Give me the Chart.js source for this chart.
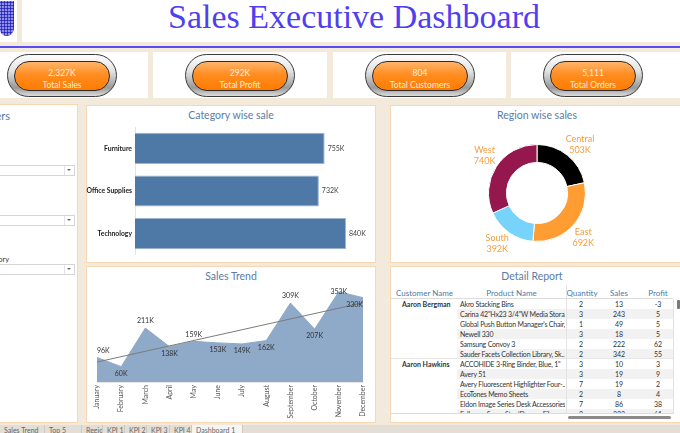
<!DOCTYPE html>
<html>
<head>
<meta charset="utf-8">
<script src="https://cdn.jsdelivr.net/npm/chart.js@4.4.1/dist/chart.umd.min.js"></script>
<style>
  body { margin: 0; width: 680px; height: 433px; background: #f4eadb; position: relative; overflow: hidden; font-family: Lato, sans-serif; }
  .abs { position: absolute; }
  .white { position: absolute; background: #fff; }
  .panel { position: absolute; background: #fff; border: 1px solid #f6d8b4; box-sizing: border-box; }
  .ttl { position: absolute; text-align: center; color: #5a7ca6; font-size: 10.5px; line-height: 12px; white-space: nowrap; }
  canvas { position: absolute; }
  .pill { position: absolute; top: 54px; height: 43px; border-radius: 22px; box-sizing: border-box; border: 1px solid #3a3a3a;
          background: linear-gradient(#fdfdfd, #e2e2e2 40%, #999 80%, #dcdcdc); }
  .pill .in { position: absolute; left: 6px; right: 6px; top: 6px; bottom: 5px; border-radius: 16px; border: 1px solid #2b2b2b;
              background: linear-gradient(#ffb46a, #ff8d22 45%, #ff7b00); color: #ffeede; text-align: center; font-size: 8.5px; line-height: 12px; padding-top: 5px; box-sizing: border-box; }
  .dd { position: absolute; left: -2px; width: 75px; height: 9px; border: 1px solid #d6d6d6; background: #fff; }
  .dd:after { content: ''; position: absolute; right: 3px; top: 3px; border-left: 2px solid transparent; border-right: 2px solid transparent; border-top: 2px solid #666; }
  .dd:before { content: ''; position: absolute; right: 9px; top: 0; bottom: 0; border-left: 1px solid #e2e2e2; }
  .cell { position: absolute; font-size: 7px; line-height: 10px; color: #333; white-space: nowrap; overflow: hidden; }
  .hd { position: absolute; font-size: 8px; line-height: 10px; color: #4e79a7; white-space: nowrap; }
  .tab { position: absolute; top: 425px; height: 8px; border-right: 1px solid #cfc8bc; font-size: 7px; color: #666; overflow: hidden; line-height: 10px; padding-left: 4px; box-sizing: border-box; }
</style>
</head>
<body>
<!-- header -->
<div class="white" style="left:0;top:0;width:17px;height:42px;"></div>
<div class="abs" style="left:0;top:1px;width:14px;height:35px;border-radius:0 0 8px 7px;background:radial-gradient(circle,#1f1fb8 0.9px,transparent 1.3px) 0 0/3px 3px,#8e8ee8;"></div>
<div class="white" style="left:22px;top:0;width:658px;height:42px;"></div>
<div class="abs" style="left:168px;top:-3px;font-family:'Liberation Serif',serif;font-size:34px;line-height:40px;color:#4f3ff0;white-space:nowrap;">Sales Executive Dashboard</div>
<div class="abs" style="left:0;top:46px;width:680px;height:2px;background:#5a4cf0;"></div>

<!-- KPI panels -->
<div class="white" style="left:0;top:52px;width:148px;height:46px;"></div>
<div class="white" style="left:153px;top:52px;width:174px;height:46px;"></div>
<div class="white" style="left:333px;top:52px;width:173px;height:46px;"></div>
<div class="white" style="left:511px;top:52px;width:169px;height:46px;"></div>
<div id="kpis"></div>

<!-- panels -->
<div class="panel" style="left:-1px;top:104px;width:79px;height:319px;"></div>
<div class="panel" style="left:86px;top:105px;width:290px;height:158px;"></div>
<div class="panel" style="left:390px;top:105px;width:292px;height:158px;"></div>
<div class="panel" style="left:86px;top:266px;width:290px;height:157px;"></div>
<div class="panel" style="left:390px;top:266px;width:292px;height:157px;"></div>

<!-- filters (cut off at the left edge) -->
<div class="abs" style="left:-40px;top:110px;width:50px;text-align:right;color:#4e79a7;font-size:11px;line-height:12px;">Filters</div>
<div class="dd" style="top:165px;"></div>
<div class="dd" style="top:215px;"></div>
<div class="abs" style="left:-42px;top:255px;width:51px;text-align:right;color:#333;font-size:7.5px;line-height:9px;">Category</div>
<div class="dd" style="top:264px;"></div>

<!-- titles -->
<div class="ttl" style="left:86px;width:290px;top:109px;">Category wise sale</div>
<div class="ttl" style="left:390px;width:294px;top:109px;">Region wise sales</div>
<div class="ttl" style="left:86px;width:290px;top:270px;">Sales Trend</div>
<div class="ttl" style="left:390px;width:284px;top:270px;">Detail Report</div>

<canvas id="cat" width="289" height="157" style="left:86px;top:105px;"></canvas>
<canvas id="region" width="290" height="157" style="left:390px;top:105px;"></canvas>
<canvas id="trend" width="289" height="156" style="left:86px;top:266px;"></canvas>

<div id="report"></div>

<!-- sheet tabs -->
<div class="abs" style="left:0;top:425px;width:680px;height:8px;background:#e4dfd6;"></div>
<div id="tabs"></div>

<script>
// KPI tiles
const kpiValues = ['2,327K', '292K', '804', '5,111'];
const kpiLabels = ['Total Sales', 'Total Profit', 'Total Customers', 'Total Orders'];

// Category wise sale (K)
const categories = ['Furniture', 'Office Supplies', 'Technology'];
const categorySales = [755, 732, 840];

// Region wise sales (K)
const regions = ['Central', 'East', 'South', 'West'];
const regionSales = [503, 692, 392, 740];

// Sales trend (K)
const months = ['January', 'February', 'March', 'April', 'May', 'June', 'July', 'August', 'September', 'October', 'November', 'December'];
const monthlySales = [96, 60, 211, 138, 159, 153, 149, 162, 309, 207, 353, 330];
const trendEnds = [78, 310];

// Detail report
const customers = ['Aaron Bergman', 'Aaron Bergman', 'Aaron Bergman', 'Aaron Bergman', 'Aaron Bergman', 'Aaron Bergman',
                   'Aaron Hawkins', 'Aaron Hawkins', 'Aaron Hawkins', 'Aaron Hawkins', 'Aaron Hawkins', 'Aaron Hawkins'];
const products = ['Akro Stacking Bins', 'Carina 42"Hx23 3/4"W Media Stora..', "Global Push Button Manager's Chair,..",
                  'Newell 330', 'Samsung Convoy 3', 'Sauder Facets Collection Library, Sk..',
                  'ACCOHIDE 3-Ring Binder, Blue, 1"', 'Avery 51', 'Avery Fluorescent Highlighter Four-..',
                  'EcoTones Memo Sheets', 'Eldon Image Series Desk Accessories..', 'Fellowes Super Stor/Drawer Files'];
const quantities = [2, 3, 1, 3, 2, 2, 3, 3, 7, 2, 7, 2];
const sales = [13, 243, 49, 18, 222, 342, 10, 19, 19, 8, 86, 323];
const profits = [-3, 5, 5, 5, 62, 55, 3, 9, 2, 4, 38, 61];

const tabNames = ['Sales Trend', 'Top 5', 'Region', 'KPI 1', 'KPI 2', 'KPI 3', 'KPI 4', 'Dashboard 1'];

// ---- KPI pills ----
const pillX = [7, 185, 365, 543];
const pillW = [110, 110, 110, 100];
let html = '';
kpiValues.forEach((v, i) => {
  html += '<div class="pill" style="left:' + pillX[i] + 'px;width:' + pillW[i] + 'px;"><div class="in">' + v + '<br>' + kpiLabels[i] + '</div></div>';
});
document.getElementById('kpis').innerHTML = html;

// ---- tabs ----
const tabX = [0, 45, 82, 103, 125, 147, 170, 192, 243];
html = '';
tabNames.forEach((t, i) => {
  const bg = i === tabNames.length - 1 ? 'background:#f7f5f1;' : '';
  html += '<div class="tab" style="left:' + tabX[i] + 'px;width:' + (tabX[i + 1] - tabX[i]) + 'px;' + bg + '">' + t + '</div>';
});
document.getElementById('tabs').innerHTML = html;

// ---- detail report ----
html = '';
html += '<div class="hd" style="left:396px;top:288px;">Customer Name</div>';
html += '<div class="hd" style="left:457px;width:109px;text-align:center;top:288px;">Product Name</div>';
html += '<div class="hd" style="left:566px;width:32px;text-align:center;top:288px;">Quantity</div>';
html += '<div class="hd" style="left:600px;width:38px;text-align:center;top:288px;">Sales</div>';
html += '<div class="hd" style="left:640px;width:36px;text-align:center;top:288px;">Profit</div>';
html += '<div class="abs" style="left:391px;top:298px;width:282px;height:1px;background:#dcdcdc;"></div>';
html += '<div class="abs" style="left:390px;top:299px;width:284px;height:115px;overflow:hidden;">';
products.forEach((p, i) => {
  const y = i * 10;
  if (i % 2 === 1) html += '<div class="abs" style="left:67px;top:' + y + 'px;width:216px;height:10px;background:#f2f2f2;"></div>';
  if (i === 0 || customers[i] !== customers[i - 1]) {
    if (i > 0) html += '<div class="abs" style="left:1px;top:' + (y - 1) + 'px;width:282px;height:1px;background:#e6e6e6;"></div>';
    html += '<div class="cell" style="left:12px;top:' + y + 'px;font-weight:bold;">' + customers[i] + '</div>';
  }
  html += '<div class="cell" style="left:70px;width:105px;top:' + y + 'px;letter-spacing:-0.2px;">' + p.replace(/</g, '&lt;') + '</div>';
  html += '<div class="cell" style="left:176px;width:30px;text-align:center;top:' + y + 'px;">' + quantities[i] + '</div>';
  html += '<div class="cell" style="left:210px;width:38px;text-align:center;top:' + y + 'px;">' + sales[i] + '</div>';
  html += '<div class="cell" style="left:250px;width:36px;text-align:center;top:' + y + 'px;">' + profits[i] + '</div>';
});
html += '<div class="abs" style="left:176px;top:0;width:1px;height:115px;background:#e2e2e2;"></div>';
html += '<div class="abs" style="left:283px;top:0;width:1px;height:115px;background:#e2e2e2;"></div>';
html += '</div>';
html += '<div class="abs" style="left:566px;top:285px;width:1px;height:14px;background:#e2e2e2;"></div>';
html += '<div class="abs" style="left:391px;top:413px;width:283px;height:1px;background:#dcdcdc;"></div>';
html += '<div class="abs" style="left:677px;top:300px;width:3px;height:9px;background:#7a7a7a;border-radius:1px;"></div>';
html += '<div class="abs" style="left:568px;top:416px;width:103px;height:3px;background:#8a8a8a;border-radius:2px;"></div>';
document.getElementById('report').innerHTML = html;

// ---- Category wise sale ----
const barLabels = {
  id: 'barLabels',
  afterDatasetsDraw(chart) {
    const ctx = chart.ctx;
    ctx.save();
    ctx.font = '7px Lato';
    ctx.fillStyle = '#444';
    ctx.textBaseline = 'middle';
    chart.getDatasetMeta(0).data.forEach((bar, i) => {
      ctx.fillText(categorySales[i] + 'K', bar.x + 3, bar.y);
    });
    ctx.restore();
  }
};

new Chart(document.getElementById('cat'), {
  type: 'bar',
  data: {
    labels: categories,
    datasets: [{
      data: categorySales,
      backgroundColor: '#4e79a7',
      borderColor: '#9fb4cf',
      borderWidth: 1,
      barPercentage: 1,
      categoryPercentage: 0.73
    }]
  },
  options: {
    indexAxis: 'y',
    responsive: false,
    animation: false,
    layout: { padding: { left: 0, right: 29, top: 22, bottom: 1 } },
    plugins: { legend: { display: false }, tooltip: { enabled: false } },
    scales: {
      x: { display: false, min: 0, max: 840 },
      y: {
        grid: { display: false, drawTicks: false },
        border: { color: '#e4e4e4' },
        ticks: { color: '#222', font: { family: 'Lato', size: 6.8, weight: 'bold' }, padding: 3 },
        afterFit: s => { s.width = 49; }
      }
    }
  },
  plugins: [barLabels]
});

// ---- Region wise sales ----
const donutLabels = {
  id: 'donutLabels',
  afterDatasetsDraw(chart) {
    const ctx = chart.ctx;
    ctx.save();
    ctx.font = '9px Lato';
    ctx.fillStyle = '#f59d3d';
    ctx.textAlign = 'center';
    ctx.textBaseline = 'middle';
    chart.getDatasetMeta(0).data.forEach((arc, i) => {
      const p = arc.getProps(['x', 'y', 'startAngle', 'endAngle', 'outerRadius'], true);
      const mid = (p.startAngle + p.endAngle) / 2 + 0.05;
      const r = p.outerRadius + 16;
      const lx = p.x + Math.cos(mid) * r;
      const ly = p.y + Math.sin(mid) * r;
      ctx.fillText(regions[i], lx, ly - 5.5);
      ctx.fillText(regionSales[i] + 'K', lx, ly + 5.5);
    });
    ctx.restore();
  }
};

new Chart(document.getElementById('region'), {
  type: 'doughnut',
  data: {
    labels: regions,
    datasets: [{
      data: regionSales,
      backgroundColor: ['#000000', '#ff9d33', '#78d3fa', '#94174e'],
      borderColor: '#ffffff',
      borderWidth: 1
    }]
  },
  options: {
    responsive: false,
    animation: false,
    cutout: '63%',
    layout: { padding: { left: 98, right: 94, top: 39, bottom: 20 } },
    plugins: { legend: { display: false }, tooltip: { enabled: false } }
  },
  plugins: [donutLabels]
});

// ---- Sales Trend ----
const labelSide = [-1, 1, -1, 1, -1, 1, 1, 1, -1, 1, 0, 1];
const trendLabels = {
  id: 'trendLabels',
  afterDatasetsDraw(chart) {
    const ctx = chart.ctx;
    const pts = chart.getDatasetMeta(0).data;
    ctx.save();
    ctx.font = '7px Lato';
    ctx.fillStyle = '#333';
    ctx.textBaseline = 'middle';
    pts.forEach((pt, i) => {
      ctx.textAlign = i === 0 ? 'left' : (i === pts.length - 1 ? 'right' : 'center');
      ctx.fillText(monthlySales[i] + 'K', pt.x, pt.y + labelSide[i] * 7);
    });
    ctx.restore();
  }
};

new Chart(document.getElementById('trend'), {
  type: 'line',
  data: {
    labels: months,
    datasets: [
      {
        data: monthlySales,
        fill: 'origin',
        backgroundColor: '#8fa9c8',
        borderColor: '#8fa9c8',
        borderWidth: 1,
        pointRadius: 0,
        tension: 0,
        order: 2
      },
      {
        data: [{ x: months[0], y: trendEnds[0] }, { x: months[months.length - 1], y: trendEnds[1] }],
        fill: false,
        borderColor: '#7c7c7c',
        borderWidth: 1,
        pointRadius: 0,
        order: 1
      }
    ]
  },
  options: {
    responsive: false,
    animation: false,
    layout: { padding: { left: 11, right: 12, top: 24, bottom: 0 } },
    plugins: { legend: { display: false }, tooltip: { enabled: false } },
    scales: {
      x: {
        offset: false,
        grid: { display: false, drawTicks: false },
        border: { color: '#e6e6e6' },
        ticks: { autoSkip: false, minRotation: 90, maxRotation: 90, color: '#555', font: { family: 'Lato', size: 7 }, padding: 3 },
        afterFit: s => { s.height = 40; }
      },
      y: { display: false, min: 0, max: 360 }
    }
  },
  plugins: [trendLabels]
});
</script>
</body>
</html>
